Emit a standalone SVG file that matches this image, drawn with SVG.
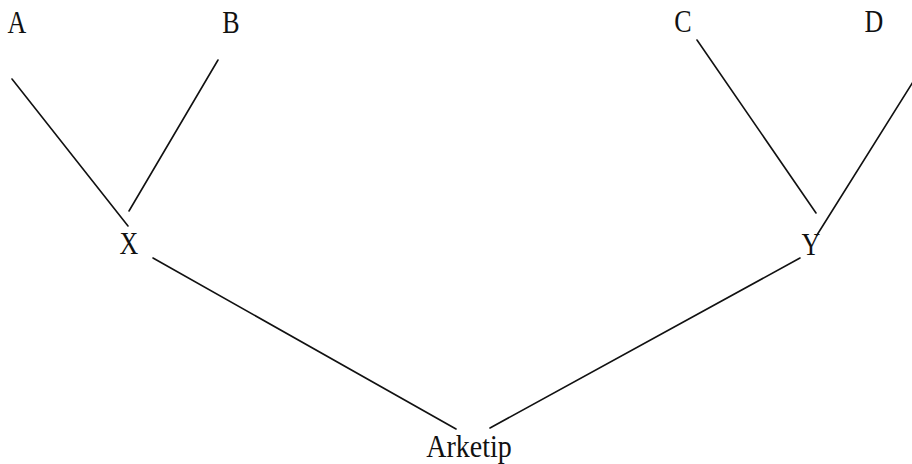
<svg xmlns="http://www.w3.org/2000/svg" width="912" height="464" viewBox="0 0 912 464">
<style>
.lbl{font-family:"Liberation Serif","Times New Roman",serif;font-size:26px;fill:#111;text-anchor:middle}
.edge{stroke:#111;stroke-width:1.6;fill:none;stroke-linecap:round}
</style>
<rect width="912" height="464" fill="#fff"/>
<g id="connectors">
<line class="edge" x1="12" y1="79" x2="128" y2="226"/>
<line class="edge" x1="218" y1="60" x2="129" y2="211"/>
<line class="edge" x1="697" y1="40" x2="816" y2="213"/>
<line class="edge" x1="913" y1="82" x2="817" y2="235"/>
<line class="edge" x1="153" y1="258" x2="456" y2="429"/>
<line class="edge" x1="490" y1="428" x2="800" y2="258"/>
</g>
<g id="A"><text class="lbl" transform="translate(17,33) scale(1,1.2)">A</text></g>
<g id="B"><text class="lbl" transform="translate(231,33) scale(1,1.2)">B</text></g>
<g id="C"><text class="lbl" transform="translate(683,32) scale(1,1.2)">C</text></g>
<g id="D"><text class="lbl" transform="translate(874,32) scale(1,1.2)">D</text></g>
<g id="X"><text class="lbl" transform="translate(129,254) scale(1,1.2)">X</text></g>
<g id="Y"><text class="lbl" transform="translate(811,255) scale(1,1.2)">Y</text></g>
<g id="Arketip"><text class="lbl" transform="translate(469,457) scale(1,1.15)" style="font-size:28px">Arketip</text></g>
</svg>
